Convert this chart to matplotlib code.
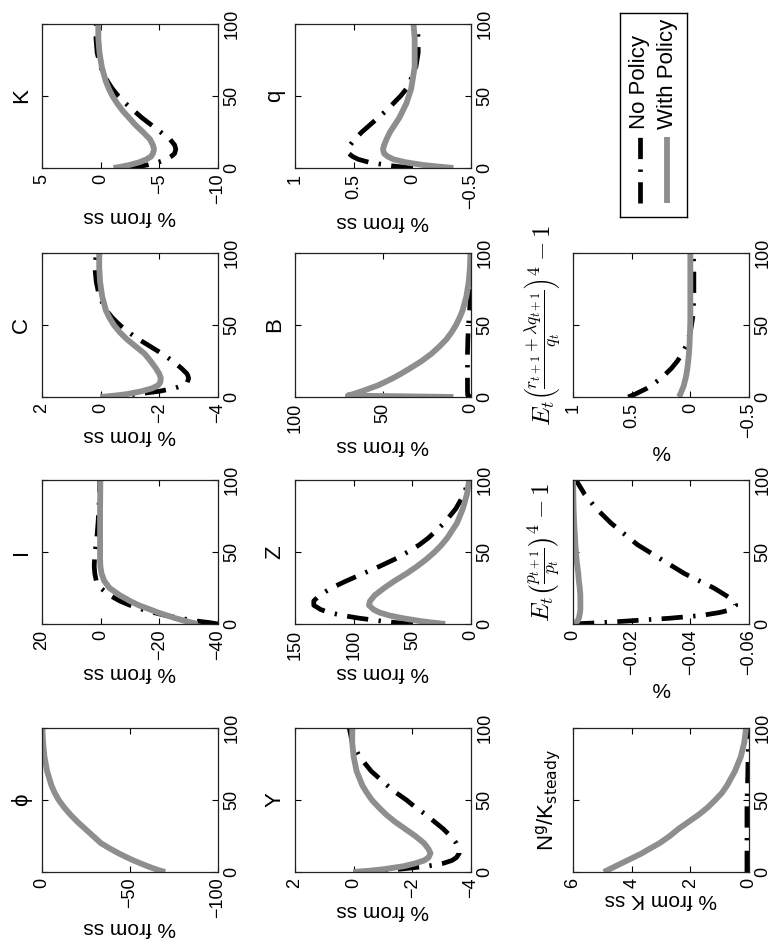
import matplotlib
matplotlib.use("Agg")
import matplotlib.pyplot as plt
from matplotlib.transforms import offset_copy

plt.rcParams['font.family'] = ['Liberation Sans', 'DejaVu Sans']
plt.rcParams['axes.unicode_minus'] = True

# time (quarters after shock)
T = [0, 1, 2, 4, 6, 8, 10, 13, 16, 20, 25, 30, 35, 40, 45, 50, 55, 60, 70, 80, 90, 100]

# "With Policy" (wp) and "No Policy" (np) responses
phi_wp = [-70, -67, -64.5, -60, -56, -52, -48.5, -43.5, -39, -33.5, -29, -24.5, -20, -16,
          -12.5, -9.5, -7.2, -5.4, -2.9, -1.4, -0.6, -0.2]

I_np = [-40, -37, -33, -27, -22, -18, -14.5, -10, -6.5, -3, 0, 1.5, 2, 2.2, 2.1, 1.9, 1.6,
        1.3, 0.9, 0.6, 0.4, 0.3]
I_wp = [-33, -31, -29, -25.5, -22.5, -19.5, -17, -13, -10, -6.5, -3, -1.2, -0.3, 0.1, 0.2,
        0.2, 0.2, 0.2, 0.2, 0.2, 0.15, 0.1]

C_np = [0, -0.7, -1.25, -2.0, -2.5, -2.8, -2.95, -3.0, -2.95, -2.75, -2.45, -2.1, -1.7, -1.3,
        -0.95, -0.65, -0.4, -0.2, 0.05, 0.15, 0.2, 0.15]
C_wp = [0, -0.5, -0.9, -1.4, -1.75, -1.95, -2.03, -2.05, -2.0, -1.88, -1.7, -1.5, -1.2, -0.9,
        -0.65, -0.45, -0.3, -0.18, -0.05, 0.02, 0.05, 0.05]

K_np = [-2.3, -3.2, -3.9, -4.9, -5.6, -6.0, -6.3, -6.4, -6.3, -5.9, -5.1, -4.3, -3.5, -2.8,
        -2.1, -1.5, -1.0, -0.6, 0.0, 0.3, 0.4, 0.35]
K_wp = [-1.1, -1.8, -2.4, -3.3, -3.9, -4.3, -4.45, -4.55, -4.45, -4.2, -3.6, -2.95, -2.4,
        -1.85, -1.4, -1.0, -0.7, -0.45, -0.1, 0.1, 0.2, 0.2]

Y_np = [0, -0.9, -1.6, -2.5, -3.05, -3.35, -3.5, -3.6, -3.6, -3.5, -3.3, -3.05, -2.75, -2.45,
        -2.1, -1.8, -1.45, -1.15, -0.6, -0.2, 0.05, 0.15]
Y_wp = [0, -0.6, -1.05, -1.7, -2.1, -2.4, -2.55, -2.62, -2.55, -2.4, -2.1, -1.75, -1.4, -1.1,
        -0.85, -0.62, -0.45, -0.3, -0.1, 0.0, 0.05, 0.05]

Z_np = [50, 64, 76, 95, 110, 121, 128, 134, 134, 129, 119, 106, 92, 78, 65, 54, 44, 36, 23,
        13, 6, 2]
Z_wp = [22, 33, 43, 58, 70, 78, 83, 87, 86, 82, 74, 65, 55, 46, 38, 31, 25, 20, 12, 7, 3.5, 1.5]

B_np = [0, 1.8, 1.9, 2, 2, 2, 2, 2, 2, 2, 2, 2, 1.9, 1.8, 1.6, 1.4, 1.1, 0.8, 0.4, 0.2, 0.1, 0.05]
B_wp = [10, 70, 67, 62, 57.5, 53, 49.5, 44.5, 40, 34.5, 28, 22.5, 18, 14, 11, 8.5, 6.5, 4.8,
        2.6, 1.3, 0.6, 0.3]

q_np = [0.0, 0.12, 0.22, 0.37, 0.46, 0.51, 0.54, 0.55, 0.53, 0.49, 0.43, 0.36, 0.29, 0.22,
        0.16, 0.1, 0.05, 0.02, -0.03, -0.05, -0.05, -0.04]
q_wp = [-0.35, -0.22, -0.1, 0.06, 0.16, 0.21, 0.24, 0.25, 0.24, 0.22, 0.19, 0.15, 0.11, 0.08,
        0.05, 0.03, 0.01, 0.0, -0.02, -0.02, -0.02, -0.01]

Ng_np = [0.07, 0.07, 0.07, 0.07, 0.07, 0.07, 0.07, 0.07, 0.07, 0.07, 0.07, 0.07, 0.07, 0.07,
         0.07, 0.07, 0.06, 0.05, 0.04, 0.03, 0.02, 0.02]
Ng_wp = [4.95, 4.85, 4.75, 4.55, 4.35, 4.15, 3.95, 3.65, 3.4, 3.05, 2.7, 2.4, 2.05, 1.7, 1.4,
         1.15, 0.92, 0.75, 0.48, 0.28, 0.16, 0.1]

Ep_np = [0.0, -0.01, -0.018, -0.033, -0.044, -0.05, -0.054, -0.0555, -0.055, -0.052, -0.048,
         -0.043, -0.038, -0.034, -0.03, -0.026, -0.022, -0.019, -0.013, -0.008, -0.004, -0.001]
Ep_wp = [0.0, -0.001, -0.0015, -0.002, -0.0022, -0.0024, -0.0025, -0.0025, -0.0025, -0.0025,
         -0.0023, -0.002, -0.0018, -0.0015, -0.0012, -0.001, -0.0008, -0.0007, -0.0004,
         -0.0002, -0.0001, 0.0]

Er_np = [0.53, 0.5, 0.47, 0.42, 0.37, 0.33, 0.3, 0.25, 0.21, 0.16, 0.11, 0.07, 0.04, 0.02, 0.0,
         -0.01, -0.02, -0.025, -0.03, -0.03, -0.03, -0.025]
Er_wp = [0.1, 0.09, 0.085, 0.075, 0.065, 0.055, 0.05, 0.04, 0.033, 0.025, 0.018, 0.012, 0.008,
         0.005, 0.003, 0.001, 0.0, 0.0, 0.0, 0.0, 0.0, 0.0]

time_ticks = [0, 50, 100]
time_labels = ['0', '50', '100']

W, H = 779, 943
BLACK_LS = (0, (4.5, 2.2, 0.5, 2.2))
GRAY = '#8e8e8e'

fig = plt.figure(figsize=(W / 100, H / 100), dpi=100)

# column left edges and row top edges in pixels (figure is printed rotated)
col_x = [42, 295, 573]
row_y = [24, 253, 480, 728]
PW, PH = 176, 144


def make_ax(col, row):
    x0 = col_x[col]
    y0 = row_y[row]
    return fig.add_axes([x0 / W, 1 - (y0 + PH) / H, PW / W, PH / H])


def panel(col, row, title, vlim, vticks, vlabels, vlabel, np_vals, wp_vals, math=None,
          label_y=None):
    ax = make_ax(col, row)
    if np_vals is not None:
        ax.plot(np_vals, T, color='k', lw=3.4, ls=BLACK_LS)
    ax.plot(wp_vals, T, color=GRAY, lw=4.2, solid_capstyle='butt')
    ax.set_xlim(vlim[1], vlim[0])
    ax.set_ylim(0, 100)
    ax.set_xticks(vticks)
    ax.set_xticklabels(vlabels, rotation=90, fontsize=13)
    ax.set_yticks(time_ticks)
    ax.yaxis.tick_right()
    ax.set_yticklabels(time_labels, rotation=90, va='center', fontsize=13)
    ax.tick_params(direction='in', length=4, width=0.8, top=True, bottom=True,
                   left=True, right=True, labelleft=False, labelright=True, pad=4)
    for s in ax.spines.values():
        s.set_linewidth(0.9)
        s.set_color('#222222')
    ax.set_xlabel(vlabel, rotation=180, fontsize=15, labelpad=2)
    if label_y is not None:
        ax.xaxis.set_label_coords(0.5, label_y)
    tr = offset_copy(ax.transAxes, fig=fig, x=-7, y=0, units='points')
    if math is None:
        ax.text(0, 0.5, title, transform=tr, rotation=90, ha='right', va='center',
                fontsize=16)
    elif math == 'cm':
        ax.text(0, 0.5, title, transform=tr, rotation=90, ha='right', va='center',
                fontsize=18, math_fontfamily=math)
    else:
        ax.text(0, 0.5, title, transform=tr, rotation=90, ha='right', va='center',
                fontsize=16, math_fontfamily=math)
    return ax


pct = '% from ss'
panel(0, 3, '\u03d5', (-100, 0), [0, -50, -100], ['0', '\u221250', '\u2212100'], pct,
      None, phi_wp, label_y=-46 / PH)
panel(0, 2, 'I', (-40, 20), [20, 0, -20, -40], ['20', '0', '\u221220', '\u221240'], pct,
      I_np, I_wp)
panel(0, 1, 'C', (-4, 2), [2, 0, -2, -4], ['2', '0', '\u22122', '\u22124'], pct, C_np, C_wp)
panel(0, 0, 'K', (-10, 5), [5, 0, -5, -10], ['5', '0', '\u22125', '\u221210'], pct, K_np, K_wp)
panel(1, 3, 'Y', (-4, 2), [2, 0, -2, -4], ['2', '0', '\u22122', '\u22124'], pct, Y_np, Y_wp)
panel(1, 2, 'Z', (0, 150), [150, 100, 50, 0], ['150', '100', '50', '0'], pct, Z_np, Z_wp)
panel(1, 1, 'B', (0, 100), [100, 50, 0], ['100', '50', '0'], pct, B_np, B_wp)
panel(1, 0, 'q', (-0.5, 1), [1, 0.5, 0, -0.5], ['1', '0.5', '0', '\u22120.5'], pct, q_np, q_wp)
panel(2, 3, r'N$^{\mathrm{g}}$/K$_{\mathrm{steady}}$', (0, 6), [6, 4, 2, 0],
      ['6', '4', '2', '0'], '% from K ss', Ng_np, Ng_wp, math='dejavusans')
panel(2, 2, r'$E_t\left(\frac{p_{t+1}}{p_t}\right)^4-1$', (-0.06, 0), [0, -0.02, -0.04, -0.06],
      ['0', '\u22120.02', '\u22120.04', '\u22120.06'], '%', Ep_np, Ep_wp, math='cm')
panel(2, 1, r'$E_t\left(\frac{r_{t+1}+\lambda q_{t+1}}{q_t}\right)^4-1$', (-0.5, 1),
      [1, 0.5, 0, -0.5], ['1', '0.5', '0', '\u22120.5'], '%', Er_np, Er_wp, math='cm')

# legend, drawn by hand because it is rotated with the page
lg = fig.add_axes([620 / W, 1 - 217 / H, 67 / W, 204 / H])
lg.set_xlim(0, 67)
lg.set_ylim(0, 204)
lg.set_xticks([])
lg.set_yticks([])
for s in lg.spines.values():
    s.set_linewidth(1.0)
lg.plot([20, 20], [14, 80], color='k', lw=3.4, ls=BLACK_LS)
lg.plot([47, 47], [14, 80], color=GRAY, lw=4.2, solid_capstyle='butt')
lg.text(20, 88, 'No Policy', rotation=90, ha='center', va='bottom', fontsize=16)
lg.text(48, 88, 'With Policy', rotation=90, ha='center', va='bottom', fontsize=16)

fig.savefig('out.png', dpi=100)
